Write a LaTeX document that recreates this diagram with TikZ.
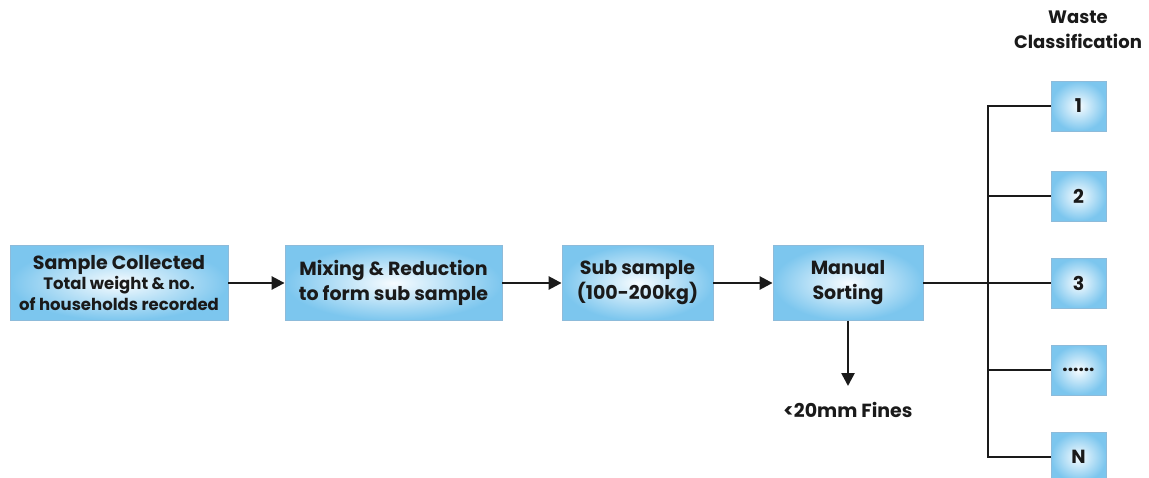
\documentclass[tikz,border=0pt]{standalone}
\usepackage{fontspec}
\setmainfont{Poppins}
\usetikzlibrary{arrows.meta}
\definecolor{boxedge}{HTML}{8DBBDA}
\definecolor{boxout}{HTML}{7CC6EE}
\definecolor{boxin}{HTML}{F7FCFF}
\definecolor{ink}{HTML}{1A1A1A}
\begin{document}
\begin{tikzpicture}[x=1pt,y=-1pt,
  big/.style={font=\bfseries\fontsize{19}{25}\selectfont},
  proc/.style={draw=boxedge, line width=0.8pt, inner color=boxin, outer color=boxout,
    minimum height=75pt, align=center, big, text=ink, inner sep=0pt},
  cls/.style={draw=boxedge, line width=0.8pt, inner color=boxin, outer color=boxout,
    minimum width=55pt, minimum height=50pt, big, text=ink, inner sep=0pt},
  link/.style={draw=ink, line width=2.6pt},
  flow/.style={link, -{Triangle[length=13pt,width=13pt]}},
  lbl/.style={big, text=ink, align=center}]
\useasboundingbox (0,0) rectangle (1149,477);
% main process chain
\node[proc, minimum width=218pt, font=\bfseries\fontsize{19}{20.5}\selectfont] (collect) at (119,283)
  {Sample Collected\\{\fontsize{16.5}{20.5}\selectfont Total weight \& no.}\\{\fontsize{16.5}{20.5}\selectfont of households recorded}};
\node[proc, minimum width=217pt] (mix) at (393.5,283) {Mixing \& Reduction\\to form sub sample};
\node[proc, minimum width=151pt] (sub) at (637.5,283) {Sub sample\\(100-200kg)};
\node[proc, minimum width=150pt] (sort) at (848,283) {Manual\\Sorting};
\draw[flow] (collect) -- (mix);
\draw[flow] (mix) -- (sub);
\draw[flow] (sub) -- (sort);
% fines output
\node[lbl] (fines) at (848,410) {<20mm Fines};
\coordinate (finesend) at (848,386);
\draw[flow] (sort.south) -- (finesend);
% classification branches
\node[lbl, font=\bfseries\fontsize{18}{25}\selectfont] (head) at (1078,30) {Waste\\Classification};
\node[cls] (c1) at (1078.5,106) {1};
\node[cls] (c2) at (1078.5,196) {2};
\node[cls] (c3) at (1078.5,283) {3};
\node[cls] (c4) at (1078.5,370) {......};
\node[cls] (cn) at (1078.5,457) {N};
\coordinate (bus) at (988,283);
\draw[link] (sort.east) -- (c3.west);
\draw[link] (c1.west) -| (bus |- cn.west) -- (cn.west);
\draw[link] (bus |- c2.west) -- (c2.west);
\draw[link] (bus |- c4.west) -- (c4.west);
\end{tikzpicture}
\end{document}
